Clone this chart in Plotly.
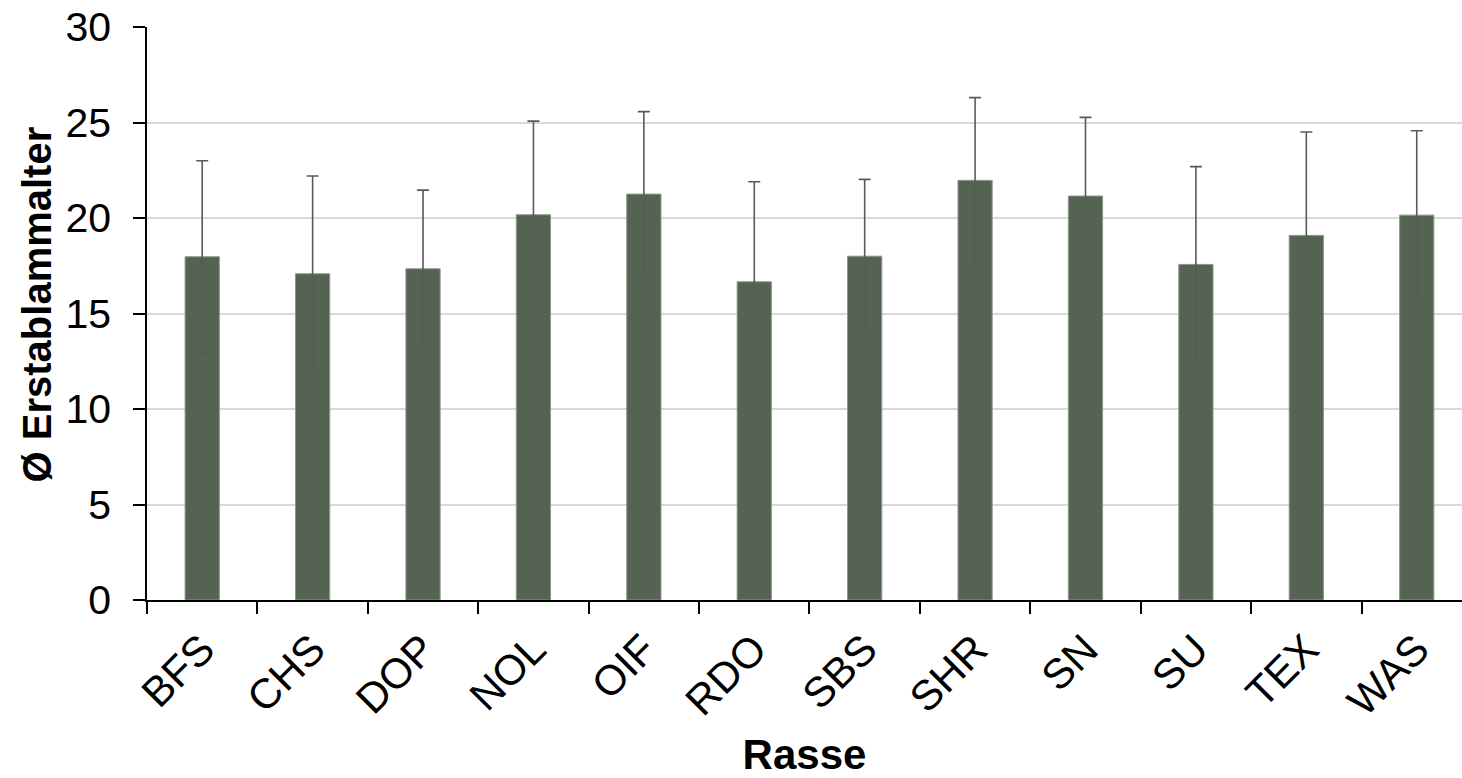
import plotly.graph_objects as go

# Rassen und mittleres Erstablammalter mit Standardabweichung
rassen = ["BFS", "CHS", "DOP", "NOL", "OIF", "RDO", "SBS", "SHR", "SN", "SU", "TEX", "WAS"]
mittelwert = [17.97, 17.08, 17.34, 20.17, 21.25, 16.66, 18.0, 21.97, 21.15, 17.57, 19.09, 20.15]
stdabw = [5.03, 5.12, 4.12, 4.90, 4.32, 5.24, 4.02, 4.33, 4.12, 5.12, 5.41, 4.42]

y_ticks = [0, 5, 10, 15, 20, 25, 30]

font_family = "Liberation Sans, Arial, sans-serif"

fig = go.Figure(
    go.Bar(
        x=rassen,
        y=mittelwert,
        width=0.31,
        marker=dict(color="#556353", line=dict(color="#8c978a", width=1)),
        error_y=dict(
            type="data",
            array=stdabw,
            visible=True,
            color="#5a5a5a",
            thickness=1.6,
            width=6,
        ),
    )
)

fig.update_layout(
    width=1462,
    height=778,
    margin=dict(l=147, r=0, t=27, b=178),
    paper_bgcolor="white",
    plot_bgcolor="white",
    showlegend=False,
    font=dict(family=font_family, color="black"),
    xaxis=dict(
        range=[-0.5, 11.41],
        tickangle=-45,
        tickfont=dict(size=42),
        ticks="outside",
        tickson="boundaries",
        ticklen=12,
        tickwidth=1.5,
        tickcolor="black",
        ticklabelstandoff=6,
        showline=True,
        linecolor="black",
        linewidth=1.5,
        showgrid=False,
        title=dict(text="<b>Rasse</b>", font=dict(size=42), standoff=19),
    ),
    yaxis=dict(
        range=[0, 30],
        tickvals=y_ticks,
        tickfont=dict(size=41),
        ticks="outside",
        ticklen=12,
        tickwidth=1.5,
        tickcolor="black",
        ticklabelstandoff=14,
        showline=True,
        linecolor="black",
        linewidth=1.5,
        showgrid=True,
        gridcolor="#d9d9d9",
        gridwidth=1.5,
        zeroline=False,
    ),
    annotations=[
        dict(
            text="<b>Ø Erstablammalter</b>",
            font=dict(size=40),
            textangle=-90,
            xref="paper",
            yref="paper",
            x=-0.0833,
            y=0.5166,
            xanchor="center",
            yanchor="middle",
            showarrow=False,
        )
    ],
)

fig.write_html("out.html")
